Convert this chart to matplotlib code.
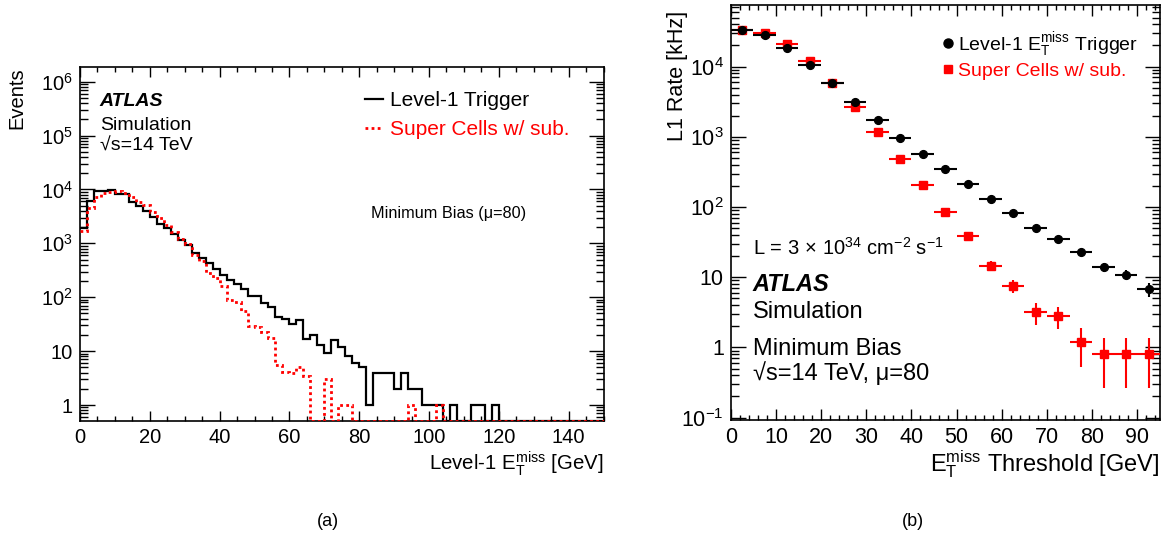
import numpy as np
import matplotlib
matplotlib.use("Agg")
import matplotlib.pyplot as plt
from matplotlib.ticker import FixedLocator, MultipleLocator, FuncFormatter, NullFormatter, LogLocator
from matplotlib.lines import Line2D

plt.rcParams['font.family'] = ['Liberation Sans', 'DejaVu Sans']
plt.rcParams['mathtext.fontset'] = 'custom'
plt.rcParams['mathtext.rm'] = 'Liberation Sans'
plt.rcParams['mathtext.it'] = 'Liberation Sans:italic'
plt.rcParams['mathtext.bf'] = 'Liberation Sans:bold'
plt.rcParams['mathtext.sf'] = 'Liberation Sans'
plt.rcParams['mathtext.default'] = 'regular'
plt.rcParams['axes.linewidth'] = 1.2

# ---------------- Panel (a): Level-1 MET distributions ----------------
met_bin_edges = np.arange(0, 152, 2)  # 2 GeV bins, 0-150 GeV
level1_events = [
    1900, 6200, 9300, 9400, 9600, 8300, 8200, 5800, 5000, 4000,
    3100, 2300, 1900, 1500, 1150, 950, 660, 540, 430, 330,
    258, 208, 176, 140, 105, 105, 77, 65, 43, 39,
    32, 37, 17, 20, 13, 9.1, 16, 12, 8.1, 6.1,
    5.0, 1.0, 4, 4, 4, 2, 4, 2, 2, 1,
    1, 1, 0, 1, 0, 0, 1, 1, 0, 1,
    0, 0, 0, 0, 0, 0, 0, 0, 0, 0,
    0, 0, 0, 0, 0]
supercells_events = [
    1700, 4500, 7300, 8450, 9100, 9300, 8450, 7300, 5900, 5100,
    3760, 2900, 2190, 1645, 1185, 970, 607, 480, 280, 224,
    165, 89, 83, 55, 29, 27.5, 22.9, 17.3, 5.5, 4.1,
    4.0, 5.0, 3.5, 0, 0, 3.0, 0, 1, 1, 0,
    0, 0, 0, 0, 0, 0, 0, 1, 0, 0,
    0, 1, 0, 0, 0, 0, 0, 0, 0, 0,
    0, 0, 0, 0, 0, 0, 0, 0, 0, 0,
    0, 0, 0, 0, 0]

# ---------------- Panel (b): L1 rates vs threshold ----------------
met_thresholds = [2.5, 7.5, 12.5, 17.5, 22.5, 27.5, 32.5, 37.5, 42.5, 47.5,
                  52.5, 57.5, 62.5, 67.5, 72.5, 77.5, 82.5, 87.5, 92.5]
threshold_half_width = 2.5
l1_rate_khz = [33300, 28600, 18400, 10600, 5800, 3180, 1745, 977, 573, 343,
               214, 131, 82, 51, 35, 22.6, 13.8, 10.9, 6.8]
l1_rate_err = [110, 100, 80, 60, 45, 33, 25, 18, 14, 11,
               8.7, 6.8, 5.4, 4.2, 3.5, 2.8, 1.9, 1.6, 1.5]
sc_rate_khz = [33000, 29800, 20800, 11900, 5900, 2640, 1167, 476, 203, 85,
               38.5, 14.5, 7.6, 3.2, 2.8, 1.2, 0.81, 0.81, 0.81]
sc_rate_err = [110, 100, 85, 65, 45, 30, 20, 13, 8.4, 5.5,
               3.7, 2.3, 1.6, 1.1, 1.0, 0.67, 0.55, 0.55, 0.55]

W, H = 1172, 543
fig = plt.figure(figsize=(W / 100, H / 100), dpi=100)


def log_label(v, pos):
    e = int(round(np.log10(v)))
    if e == 0:
        return '1'
    if e == 1:
        return '10'
    return r'$10^{%d}$' % e


# ---- left axes ----
ax1 = fig.add_axes([80 / W, (H - 421) / H, 523.5 / W, 354 / H])
ax1.set_yscale('log')
ymin1, ymax1 = 0.505, 1.87e6
ax1.set_xlim(0, 150)
ax1.set_ylim(ymin1, ymax1)

l1_vals = np.where(np.array(level1_events) > 0, level1_events, ymin1)
sc_vals = np.where(np.array(supercells_events) > 0, supercells_events, ymin1)
h_l1 = ax1.stairs(l1_vals, met_bin_edges, baseline=None, color='black', lw=1.6,
                  label='Level-1 Trigger', zorder=2)
h_sc = ax1.stairs(sc_vals, met_bin_edges, baseline=None, color='#ff0000', lw=2.0,
                  linestyle=(0, (1, 1.2)), label='Super Cells w/ sub.', zorder=3)

ax1.yaxis.set_major_locator(FixedLocator([1, 10, 1e2, 1e3, 1e4, 1e5, 1e6]))
ax1.yaxis.set_minor_locator(LogLocator(base=10, subs=np.arange(2, 10), numticks=20))
ax1.yaxis.set_major_formatter(FuncFormatter(log_label))
ax1.yaxis.set_minor_formatter(NullFormatter())
ax1.xaxis.set_major_locator(MultipleLocator(20))
ax1.xaxis.set_minor_locator(MultipleLocator(5))
ax1.tick_params(which='both', direction='in', top=True, right=True, labelsize=14.5, width=1)
ax1.tick_params(axis='y', which='major', length=11, pad=5)
ax1.tick_params(axis='y', which='minor', length=5.5)
ax1.tick_params(axis='x', which='major', length=7, pad=5)
ax1.tick_params(axis='x', which='minor', length=3.5)

ax1.set_ylabel('Events', fontsize=14.5, ha='right', va='center')
ax1.yaxis.set_label_coords((17 - 80) / 523.5, 1.0)
ax1.set_xlabel(r'Level-1 $\mathrm{E}_{\mathrm{T}}^{\mathrm{miss}}$ [GeV]', fontsize=14.7,
               ha='right', va='baseline')
ax1.xaxis.set_label_coords(1.0, (421 - 470) / 354)

tx = lambda px: (px - 80) / 523.5
ty = lambda py: (421 - py) / 354
ax1.text(tx(99), ty(106), 'ATLAS', fontsize=14, fontweight='bold', fontstyle='italic',
         transform=ax1.transAxes, va='baseline')
ax1.text(tx(100), ty(130), 'Simulation', fontsize=14, transform=ax1.transAxes, va='baseline')
ax1.text(tx(100), ty(150.5), '√s=14 TeV', fontsize=14, transform=ax1.transAxes, va='baseline')
ax1.text(tx(371), ty(218.3), 'Minimum Bias (μ=80)', fontsize=11.7, transform=ax1.transAxes,
         va='baseline')

leg1 = ax1.legend(handles=[Line2D([], [], color='black', lw=1.6),
                           Line2D([], [], color='#ff0000', lw=2.0, linestyle=(0, (1, 1.2)))],
                  labels=['Level-1 Trigger', 'Super Cells w/ sub.'],
                  loc='upper left', bbox_to_anchor=(tx(365), ty(91)),
                  bbox_transform=ax1.transAxes, frameon=False, fontsize=15,
                  handlelength=0.87, handletextpad=0.34, labelspacing=0.5,
                  borderpad=0, borderaxespad=0)
leg1.get_texts()[1].set_color('#ff0000')

# ---- right axes ----
ax2 = fig.add_axes([730.7 / W, (H - 420) / H, 429.3 / W, 415 / H])
ax2.set_yscale('log')
ax2.set_xlim(0, 95)
ax2.set_ylim(0.0924, 75500)

ax2.errorbar(met_thresholds, sc_rate_khz, xerr=threshold_half_width, yerr=sc_rate_err,
             fmt='s', color='#ff0000', ms=5.3, elinewidth=1.5, capsize=0, zorder=3)
ax2.errorbar(met_thresholds, l1_rate_khz, xerr=threshold_half_width, yerr=l1_rate_err,
             fmt='o', color='black', ms=5.6, elinewidth=1.5, capsize=0, zorder=4)

ax2.yaxis.set_major_locator(FixedLocator([0.1, 1, 10, 1e2, 1e3, 1e4]))
ax2.yaxis.set_minor_locator(LogLocator(base=10, subs=np.arange(2, 10), numticks=20))
ax2.yaxis.set_major_formatter(FuncFormatter(log_label))
ax2.yaxis.set_minor_formatter(NullFormatter())
ax2.xaxis.set_major_locator(MultipleLocator(10))
ax2.xaxis.set_minor_locator(MultipleLocator(2))
ax2.tick_params(which='both', direction='in', top=True, right=True, labelsize=15.5, width=1)
ax2.tick_params(axis='y', which='major', length=11, pad=5)
ax2.tick_params(axis='y', which='minor', length=5.5)
ax2.tick_params(axis='x', which='major', length=8, pad=5)
ax2.tick_params(axis='x', which='minor', length=3.3)

ax2.set_ylabel('L1 Rate [kHz]', fontsize=15.5, ha='right', va='center')
ax2.yaxis.set_label_coords((678 - 730.7) / 429.3, 0.985)
ax2.set_xlabel(r'$\mathrm{E}_{\mathrm{T}}^{\mathrm{miss}}$ Threshold [GeV]', fontsize=17,
               ha='right', va='baseline')
ax2.xaxis.set_label_coords(1.0, (420 - 471) / 415)

rx = lambda px: (px - 730.7) / 429.3
ry = lambda py: (420 - py) / 415
ax2.text(rx(753), ry(255), r'L = 3$\,\times\,$10$^{34}$ cm$^{-2}$ s$^{-1}$', fontsize=14.5,
         transform=ax2.transAxes, va='baseline')
ax2.text(rx(752), ry(290.7), 'ATLAS', fontsize=17, fontweight='bold', fontstyle='italic',
         transform=ax2.transAxes, va='baseline')
ax2.text(rx(753), ry(318.3), 'Simulation', fontsize=17, transform=ax2.transAxes, va='baseline')
ax2.text(rx(753), ry(355), 'Minimum Bias', fontsize=17, transform=ax2.transAxes, va='baseline')
ax2.text(rx(753), ry(380), '√s=14 TeV, μ=80', fontsize=17, transform=ax2.transAxes,
         va='baseline')

leg2 = ax2.legend(handles=[Line2D([], [], marker='o', color='black', ls='none', ms=6.5),
                           Line2D([], [], marker='s', color='#ff0000', ls='none', ms=6.0)],
                  labels=[r'Level-1 $\mathrm{E}_{\mathrm{T}}^{\mathrm{miss}}$ Trigger',
                          'Super Cells w/ sub.'],
                  loc='upper left', bbox_to_anchor=(rx(940), ry(30)),
                  bbox_transform=ax2.transAxes, frameon=False, fontsize=14,
                  handlelength=0.8, handletextpad=0.11, labelspacing=0.16,
                  borderpad=0, borderaxespad=0)
leg2.get_texts()[1].set_color('#ff0000')

fig.text(328 / W, 1 - 522 / H, '(a)', fontsize=13, ha='center', va='center')
fig.text(913 / W, 1 - 522 / H, '(b)', fontsize=13, ha='center', va='center')

fig.savefig('out.png', dpi=100)
